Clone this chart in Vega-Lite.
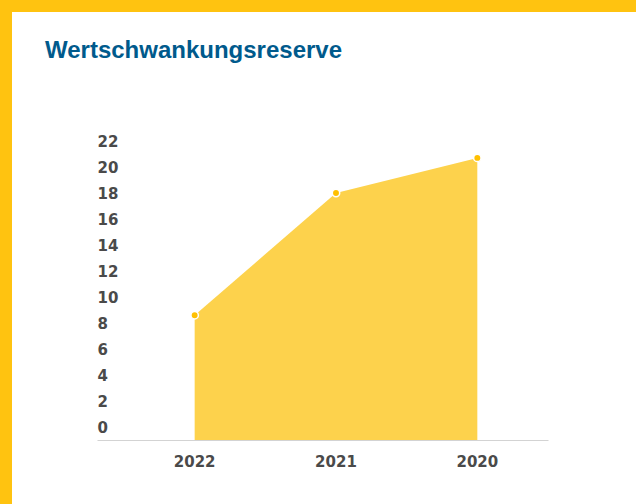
{
  "$schema": "https://vega.github.io/schema/vega-lite/v6.json",
  "width": 624,
  "height": 492,
  "autosize": "none",
  "padding": {"left": 12, "top": 12, "right": 0, "bottom": 0},
  "background": "#FFC310",
  "config": {"view": {"fill": "white", "stroke": null}},
  "title": {
    "text": "Wertschwankungsreserve",
    "anchor": "start",
    "frame": "group",
    "font": "Liberation Sans",
    "fontSize": 24,
    "fontWeight": "bold",
    "color": "#005A8C",
    "offset": 0,
    "dx": 33,
    "dy": 70,
    "baseline": "alphabetic"
  },
  "data": {
    "values": [
      {"year": "2022", "value": 8.6},
      {"year": "2021", "value": 18.0},
      {"year": "2020", "value": 20.7}
    ]
  },
  "encoding": {
    "x": {
      "field": "year",
      "type": "nominal",
      "sort": null,
      "bandPosition": 0.5,
      "scale": {"type": "band", "range": [85, 536], "paddingInner": 0, "paddingOuter": 0.0955, "align": 1},
      "axis": {
        "title": null,
        "orient": "bottom",
        "offset": -64,
        "domainColor": "#d3d3d3",
        "domainWidth": 1,
        "ticks": false,
        "grid": false,
        "labelFont": "DejaVu Sans",
        "labelFontSize": 15,
        "labelFontWeight": "bold",
        "labelColor": "#4a4a4a",
        "labelPadding": 14,
        "labelAngle": 0
      }
    },
    "y": {
      "field": "value",
      "type": "quantitative",
      "scale": {"domain": [-1, 22], "range": [428, 129], "nice": false, "zero": false},
      "axis": {
        "title": null,
        "orient": "left",
        "offset": -85,
        "domain": false,
        "ticks": false,
        "tickSize": 0,
        "grid": false,
        "values": [0, 2, 4, 6, 8, 10, 12, 14, 16, 18, 20, 22],
        "labelAlign": "left",
        "labelBaseline": "middle",
        "labelPadding": 0,
        "labelOverlap": false,
        "labelFont": "DejaVu Sans",
        "labelFontSize": 15,
        "labelFontWeight": "bold",
        "labelColor": "#4a4a4a"
      }
    }
  },
  "layer": [
    {
      "mark": {"type": "area", "color": "#FDD24C", "opacity": 1},
      "encoding": {"y2": {"datum": -1}}
    },
    {
      "mark": {"type": "point", "filled": true, "color": "#FFC000", "stroke": "white", "strokeWidth": 1.5, "size": 55, "opacity": 1}
    }
  ]
}
